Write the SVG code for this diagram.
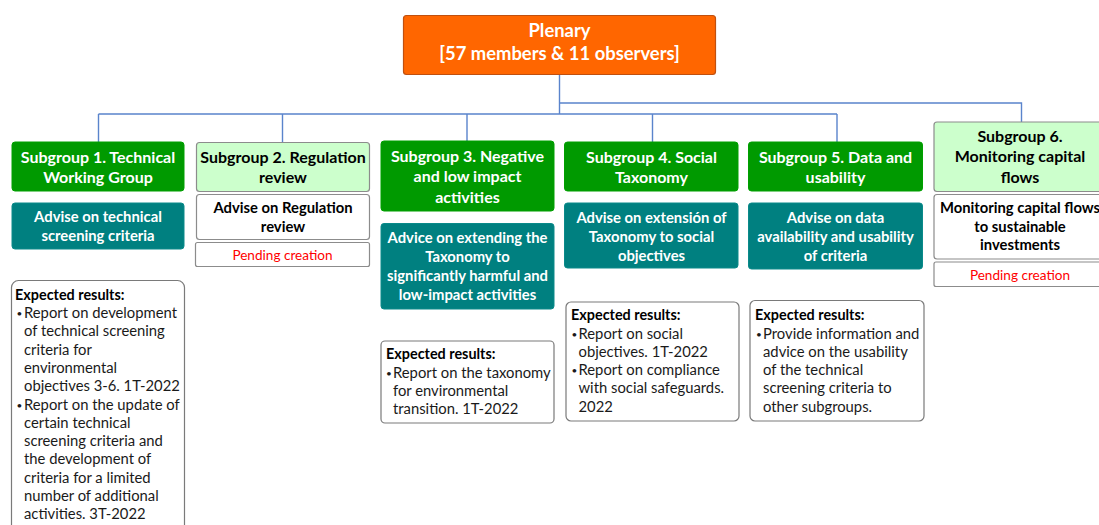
<svg xmlns="http://www.w3.org/2000/svg" width="1099" height="525" viewBox="0 0 1099 525">
  <style>
    text { font-family: Lato, "Open Sans", sans-serif; }
    .t { font-size: 16px; font-weight: 700; text-anchor: middle; }
    .a { font-size: 14.8px; font-weight: 700; text-anchor: middle; }
    .w { fill: #ffffff; }
    .k { fill: #000000; }
    .p { font-size: 13.6px; fill: #ff0000; text-anchor: middle; }
    .r { font-size: 14.8px; fill: #1a1a1a; }
    .h { font-size: 14.4px; font-weight: 700; fill: #000000; }
    .b { font-size: 10px; fill: #1a1a1a; }
    .green { fill: #009a00; stroke: #00a000; stroke-width: 1; }
    .lgreen { fill: #ccffcc; stroke: #8c8c8c; stroke-width: 1.2; }
    .teal { fill: #008080; stroke: #0a8a8a; stroke-width: 1; }
    .white { fill: #ffffff; stroke: #8c8c8c; stroke-width: 1.2; }
    .res { fill: #ffffff; stroke: #7a7a7a; stroke-width: 1.2; }
    .conn { stroke: #5a84cc; stroke-width: 1.4; fill: none; }
  </style>

  <!-- hierarchy lines -->
  <g id="connectors">
    <path class="conn" d="M559.5 75 V114 M98.5 114 H837 M98.5 114 V142 M282.5 114 V142 M467 114 V141 M652.5 114 V142 M837 114 V142"/>
    <path class="conn" d="M559.5 103 H1021.5 V122"/>
  </g>

  <g id="plenary">
    <rect x="403.5" y="15.5" width="312" height="59" rx="3" fill="#ff6600" stroke="#c0500f" stroke-width="1.2"/>
    <text x="559.5" y="36.5" class="w" style="font-size:18.4px;font-weight:700;text-anchor:middle">Plenary</text>
    <text x="559.5" y="59.5" class="w" style="font-size:18.4px;font-weight:700;text-anchor:middle">[57 members &amp; 11 observers]</text>
  </g>

  <!-- Subgroup 1 -->
  <g id="sg1">
    <rect class="green" x="12" y="142" width="172" height="49" rx="3"/>
    <text class="t w" x="98" y="162.5">Subgroup 1. Technical</text>
    <text class="t w" x="98" y="182.5">Working Group</text>
  </g>
  <g id="sg1-scope">
    <rect class="teal" x="12" y="203" width="172" height="46" rx="3"/>
    <text class="a w" x="98" y="222">Advise on technical</text>
    <text class="a w" x="98" y="241">screening criteria</text>
  </g>
  <g id="sg1-results">
    <rect class="res" x="11.5" y="280.5" width="173" height="260" rx="7"/>
    <text class="h" x="15" y="300">Expected results:</text>
    <text class="b" x="16.5" y="317">•</text>
    <text class="r">
      <tspan x="24" y="318">Report on development</tspan>
      <tspan x="24" y="336.3">of technical screening</tspan>
      <tspan x="24" y="354.6">criteria for</tspan>
      <tspan x="24" y="372.9">environmental</tspan>
      <tspan x="24" y="391.2">objectives 3-6. 1T-2022</tspan>
    </text>
    <text class="b" x="16.5" y="408.5">•</text>
    <text class="r">
      <tspan x="24" y="409.5">Report on the update of</tspan>
      <tspan x="24" y="427.8">certain technical</tspan>
      <tspan x="24" y="446.1">screening criteria and</tspan>
      <tspan x="24" y="464.4">the development of</tspan>
      <tspan x="24" y="482.7">criteria for a limited</tspan>
      <tspan x="24" y="501">number of additional</tspan>
      <tspan x="24" y="519.3">activities. 3T-2022</tspan>
    </text>
  </g>

  <!-- Subgroup 2 -->
  <g id="sg2">
    <rect class="lgreen" x="196.5" y="142.5" width="173" height="49" rx="3"/>
    <text class="t k" x="283" y="162.5">Subgroup 2. Regulation</text>
    <text class="t k" x="283" y="182.5">review</text>
  </g>
  <g id="sg2-scope">
    <rect class="white" x="196.5" y="194.5" width="173" height="45" rx="3"/>
    <text class="a k" x="283" y="212.5">Advise on Regulation</text>
    <text class="a k" x="283" y="231.5">review</text>
  </g>
  <g id="sg2-status">
    <rect class="white" x="195.5" y="242.5" width="174" height="24" rx="2"/>
    <text class="p" x="282.5" y="259.5">Pending creation</text>
  </g>

  <!-- Subgroup 3 -->
  <g id="sg3">
    <rect class="green" x="381" y="141" width="173" height="70" rx="3"/>
    <text class="t w" x="467.5" y="162">Subgroup 3. Negative</text>
    <text class="t w" x="467.5" y="182">and low impact</text>
    <text class="t w" x="467.5" y="202.5">activities</text>
  </g>
  <g id="sg3-scope">
    <rect class="teal" x="381" y="223.5" width="173" height="85.5" rx="3"/>
    <text class="a w" x="467.5" y="242.5">Advice on extending the</text>
    <text class="a w" x="467.5" y="261.5">Taxonomy to</text>
    <text class="a w" x="467.5" y="280.5">significantly harmful and</text>
    <text class="a w" x="467.5" y="299.5">low-impact activities</text>
  </g>
  <g id="sg3-results">
    <rect class="res" x="381" y="341" width="173" height="82" rx="4"/>
    <text class="h" x="386" y="359">Expected results:</text>
    <text class="b" x="386" y="376.5">•</text>
    <text class="r">
      <tspan x="393" y="377.5">Report on the taxonomy</tspan>
      <tspan x="393" y="395.8">for environmental</tspan>
      <tspan x="393" y="414.1">transition. 1T-2022</tspan>
    </text>
  </g>

  <!-- Subgroup 4 -->
  <g id="sg4">
    <rect class="green" x="564.5" y="142" width="173.5" height="49" rx="3"/>
    <text class="t w" x="651.5" y="162.5">Subgroup 4. Social</text>
    <text class="t w" x="651.5" y="182.5">Taxonomy</text>
  </g>
  <g id="sg4-scope">
    <rect class="teal" x="564.5" y="203" width="173.5" height="65" rx="3"/>
    <text class="a w" x="651.5" y="222.5">Advise on extensión of</text>
    <text class="a w" x="651.5" y="241.5">Taxonomy to social</text>
    <text class="a w" x="651.5" y="260.5">objectives</text>
  </g>
  <g id="sg4-results">
    <rect class="res" x="566" y="302" width="173" height="119" rx="5"/>
    <text class="h" x="571" y="320">Expected results:</text>
    <text class="b" x="571.5" y="337.5">•</text>
    <text class="r">
      <tspan x="578.5" y="338.5">Report on social</tspan>
      <tspan x="578.5" y="356.8">objectives. 1T-2022</tspan>
    </text>
    <text class="b" x="571.5" y="374">•</text>
    <text class="r">
      <tspan x="578.5" y="375">Report on compliance</tspan>
      <tspan x="578.5" y="393.3">with social safeguards.</tspan>
      <tspan x="578.5" y="411.6">2022</tspan>
    </text>
  </g>

  <!-- Subgroup 5 -->
  <g id="sg5">
    <rect class="green" x="748.5" y="142" width="174" height="49" rx="3"/>
    <text class="t w" x="835.5" y="162.5">Subgroup 5. Data and</text>
    <text class="t w" x="835.5" y="182.5">usability</text>
  </g>
  <g id="sg5-scope">
    <rect class="teal" x="748.5" y="203" width="174" height="66" rx="3"/>
    <text class="a w" x="835.5" y="222.5">Advise on data</text>
    <text class="a w" x="835.5" y="241.5">availability and usability</text>
    <text class="a w" x="835.5" y="260.5">of criteria</text>
  </g>
  <g id="sg5-results">
    <rect class="res" x="750" y="300.5" width="174" height="120.5" rx="5"/>
    <text class="h" x="755" y="320">Expected results:</text>
    <text class="b" x="756" y="337.5">•</text>
    <text class="r">
      <tspan x="763" y="338.5">Provide information and</tspan>
      <tspan x="763" y="356.8">advice on the usability</tspan>
      <tspan x="763" y="375.1">of the technical</tspan>
      <tspan x="763" y="393.4">screening criteria to</tspan>
      <tspan x="763" y="411.7">other subgroups.</tspan>
    </text>
  </g>

  <!-- Subgroup 6 -->
  <g id="sg6">
    <rect class="lgreen" x="934" y="122" width="176" height="69.5" rx="3"/>
    <text class="t k" x="1020" y="142">Subgroup 6.</text>
    <text class="t k" x="1020" y="162">Monitoring capital</text>
    <text class="t k" x="1020" y="182.5">flows</text>
  </g>
  <g id="sg6-scope">
    <rect class="white" x="934" y="194.5" width="176" height="64.5" rx="3"/>
    <text class="a k" x="1020" y="212.5">Monitoring capital flows</text>
    <text class="a k" x="1020" y="231.5">to sustainable</text>
    <text class="a k" x="1020" y="250">investments</text>
  </g>
  <g id="sg6-status">
    <rect class="white" x="934" y="262" width="176" height="24.5" rx="2"/>
    <text class="p" x="1020" y="279.5">Pending creation</text>
  </g>
</svg>
